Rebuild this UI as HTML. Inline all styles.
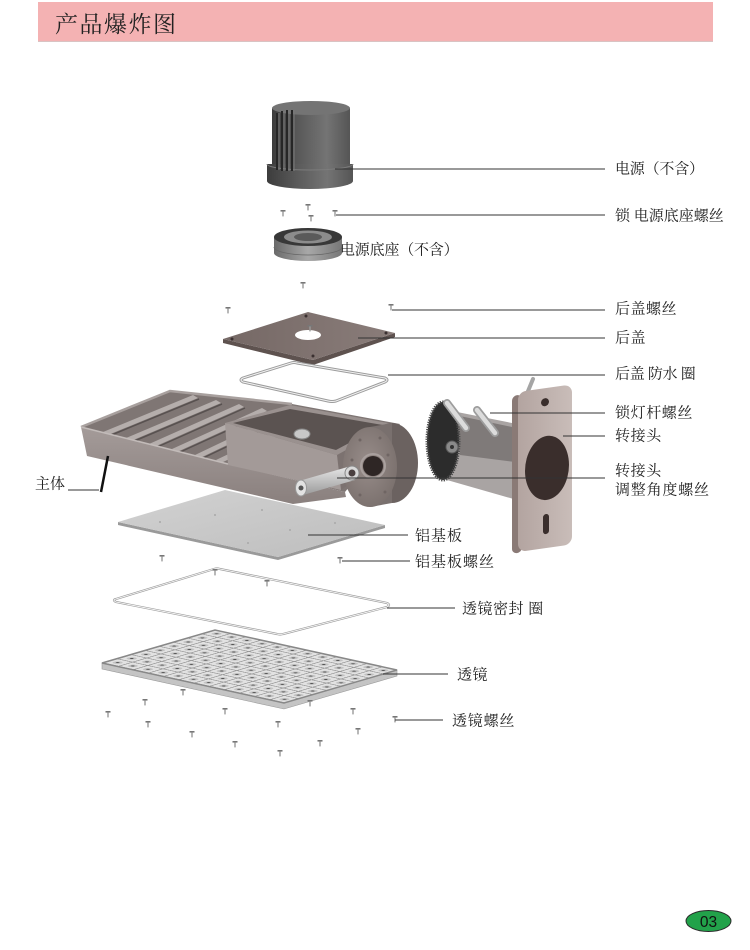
<!DOCTYPE html>
<html><head><meta charset="utf-8">
<style>
html,body{margin:0;padding:0;background:#fff;}
svg{display:block;}
.l{font-family:"Liberation Serif","Noto Serif CJK SC",serif;font-size:15px;fill:#222;}
</style></head><body>
<svg width="750" height="950" viewBox="0 0 750 950" xmlns="http://www.w3.org/2000/svg">
<defs>
 <linearGradient id="psg" x1="0" x2="1" y1="0" y2="0">
  <stop offset="0" stop-color="#3c3c3c"/><stop offset="0.35" stop-color="#5a5a5a"/><stop offset="0.7" stop-color="#747474"/><stop offset="1" stop-color="#555"/>
 </linearGradient>
 <linearGradient id="pbg" x1="0" x2="1" y1="0" y2="0">
  <stop offset="0" stop-color="#6a6a6a"/><stop offset="0.5" stop-color="#a8a8a8"/><stop offset="1" stop-color="#777"/>
 </linearGradient>
 <linearGradient id="bc" x1="0" x2="1" y1="0" y2="0">
  <stop offset="0" stop-color="#756865"/><stop offset="1" stop-color="#8a7d7a"/>
 </linearGradient>
 <linearGradient id="fw" x1="0" x2="0" y1="0" y2="1">
  <stop offset="0" stop-color="#a49b99"/><stop offset="1" stop-color="#8a807e"/>
 </linearGradient>
 <linearGradient id="al" x1="0" x2="1" y1="0" y2="1">
  <stop offset="0" stop-color="#d2d2d2"/><stop offset="1" stop-color="#bdbdbd"/>
 </linearGradient>
 <linearGradient id="bolt" x1="0" x2="0" y1="0" y2="1">
  <stop offset="0" stop-color="#e8e8e8"/><stop offset="1" stop-color="#9a9a9a"/>
 </linearGradient>
 <linearGradient id="pl" x1="0" x2="1" y1="0" y2="0">
  <stop offset="0" stop-color="#b3a4a0"/><stop offset="1" stop-color="#c9bdb9"/>
 </linearGradient>
 <radialGradient id="kn" cx="0.45" cy="0.45" r="0.6">
  <stop offset="0" stop-color="#988d8a"/><stop offset="1" stop-color="#7a706d"/>
 </radialGradient>
 <pattern id="lp" patternUnits="userSpaceOnUse" width="0.125" height="0.08333">
  <rect width="0.125" height="0.08333" fill="#e2e2e2"/>
  <rect width="0.125" height="0.007" fill="#8f8f8f"/>
  <rect width="0.012" height="0.08333" fill="#999"/>
  <ellipse cx="0.066" cy="0.045" rx="0.03" ry="0.02" fill="#c2c2c2"/>
  <ellipse cx="0.066" cy="0.045" rx="0.011" ry="0.008" fill="#555"/>
 </pattern>
 <g id="s"><rect x="-2.5" y="-3" width="5" height="1.6" fill="#777"/><rect x="-0.7" y="-1.6" width="1.4" height="5" fill="#9a9a9a"/></g>
</defs>

<!-- header -->
<rect x="38" y="2" width="675" height="40" fill="#f4b2b3"/>
<line x1="38" y1="41.5" x2="713" y2="41.5" stroke="#d9c3c3"/>
<text x="55" y="32" font-family="Liberation Serif, Noto Serif CJK SC, serif" font-size="23" letter-spacing="1.5" fill="#222">产品爆炸图</text>

<!-- power supply -->
<path d="M272,108 V166 H350 V108 Z" fill="url(#psg)"/>
<ellipse cx="311" cy="108" rx="39" ry="7" fill="#747474"/>
<path d="M267,164 V181 A43,8 0 0 0 353,181 V164 Z" fill="url(#psg)"/>
<path d="M267,164 A43,6 0 0 0 353,164" stroke="#7c7c7c" fill="none"/>
<g stroke-width="2">
 <line x1="277" y1="113" x2="277" y2="170" stroke="#262626"/>
 <line x1="282" y1="111" x2="282" y2="171" stroke="#262626"/>
 <line x1="287" y1="110" x2="287" y2="171" stroke="#262626"/>
 <line x1="292" y1="110" x2="292" y2="171" stroke="#262626"/>
</g>
<g stroke-width="1" stroke="#7a7a7a">
 <line x1="279" y1="113" x2="279" y2="170"/><line x1="284" y1="111" x2="284" y2="171"/><line x1="289" y1="110" x2="289" y2="171"/><line x1="294" y1="110" x2="294" y2="171"/>
</g>

<!-- screws -->
<use href="#s" x="283" y="213"/><use href="#s" x="308" y="207"/><use href="#s" x="311" y="218"/><use href="#s" x="335" y="213"/>
<use href="#s" x="303" y="285"/><use href="#s" x="228" y="310"/><use href="#s" x="391" y="307"/>

<!-- power base -->
<path d="M274,237 V253 A34,8 0 0 0 342,253 V237 Z" fill="url(#pbg)"/>
<path d="M274,247 A34,8 0 0 0 342,247" stroke="#666" fill="none" stroke-width="0.8"/>
<ellipse cx="308" cy="237" rx="34" ry="9" fill="#383838"/>
<ellipse cx="308" cy="237" rx="24" ry="6.5" fill="#8c8c8c"/>
<ellipse cx="308" cy="237" rx="14" ry="4" fill="#5a5a5a"/>

<!-- back cover -->
<polygon points="223,339 313,360 395,333 395,337 313,365 223,343" fill="#5e524f"/>
<polygon points="223,339 308,312 395,333 313,360" fill="url(#bc)"/>
<ellipse cx="308" cy="335" rx="13" ry="5" fill="#fff"/>
<use href="#s" x="310" y="328"/>
<g fill="#3a3030"><circle cx="232" cy="339" r="1.5"/><circle cx="306" cy="316" r="1.5"/><circle cx="386" cy="333" r="1.5"/><circle cx="313" cy="356" r="1.5"/></g>

<!-- gasket -->
<path d="M243,378 L291,363 Q294,362 297,363 L385,378 Q389,380 385,382 L336,401 Q332,402 328,401 L243,382 Q239,380 243,378 Z" fill="none" stroke="#9c9c9c" stroke-width="3"/>
<path d="M243,378 L291,363 Q294,362 297,363 L385,378 Q389,380 385,382 L336,401 Q332,402 328,401 L243,382 Q239,380 243,378 Z" fill="none" stroke="#f2f2f2" stroke-width="1"/>

<!-- aluminum plate -->
<polygon points="118,522 278,557 385,525 385,528 278,560 118,525" fill="#9a9a9a"/>
<polygon points="118,522 225,490 385,525 278,557" fill="url(#al)"/>
<g fill="#a8a8a8"><circle cx="160" cy="522" r="1"/><circle cx="215" cy="515" r="1"/><circle cx="262" cy="510" r="1"/><circle cx="290" cy="530" r="1"/><circle cx="248" cy="543" r="1"/><circle cx="335" cy="523" r="1"/></g>

<!-- main body -->
<polygon points="81,427 170,391 292,404 400,424 345,492 228,464" fill="#7f7674"/>
<polyline points="81,427 170,391 292,404" fill="none" stroke="#a8a09e" stroke-width="2.5"/>
<g>
 <polygon points="103,432 193,395 198,398 108,435" fill="#b5aeac"/><line x1="109" y1="436" x2="199" y2="399" stroke="#585150" stroke-width="1.5"/>
 <polygon points="126,438 216,400 221,403 131,441" fill="#b5aeac"/><line x1="132" y1="442" x2="222" y2="404" stroke="#585150" stroke-width="1.5"/>
 <polygon points="149,444 239,404 244,407 154,447" fill="#b5aeac"/><line x1="155" y1="448" x2="245" y2="408" stroke="#585150" stroke-width="1.5"/>
 <polygon points="172,449 262,408 267,411 177,452" fill="#b5aeac"/><line x1="178" y1="453" x2="268" y2="412" stroke="#585150" stroke-width="1.5"/>
 <polygon points="195,455 285,412 290,415 200,458" fill="#b5aeac"/><line x1="201" y1="459" x2="291" y2="416" stroke="#585150" stroke-width="1.5"/>
 <polygon points="216,460 300,420 305,423 221,463" fill="#b5aeac"/>
</g>
<polygon points="81,427 228,464 345,492 346,497 293,504 87,456" fill="url(#fw)"/>
<line x1="81" y1="427" x2="228" y2="464" stroke="#c2bbb9" stroke-width="1.5"/>
<!-- junction box -->
<polygon points="337,455 393,424 396,452 341,490" fill="#7c7270"/>
<polygon points="225,423 337,455 341,490 228,465" fill="#a39a98"/>
<polygon points="225,423 290,405 393,424 337,455" fill="#9a918f"/>
<polygon points="233,423 290,409 383,425 336,450" fill="#5b5351"/>
<ellipse cx="302" cy="434" rx="8" ry="5" fill="#c8c8c8" stroke="#888"/>
<!-- knob -->
<ellipse cx="392" cy="463" rx="26" ry="40" fill="#6b6260"/>
<polygon points="370,427 392,423 392,503 370,507" fill="#79706e"/>
<ellipse cx="370" cy="467" rx="27" ry="40" fill="url(#kn)"/>
<g fill="#6f6563"><circle cx="360" cy="440" r="1.5"/><circle cx="380" cy="438" r="1.5"/><circle cx="388" cy="455" r="1.5"/><circle cx="385" cy="492" r="1.5"/><circle cx="360" cy="495" r="1.5"/><circle cx="352" cy="460" r="1.5"/></g>
<circle cx="373" cy="466" r="12" fill="none" stroke="#a9a09e" stroke-width="2"/>
<circle cx="373" cy="466" r="10" fill="#2e2625"/>
<!-- bolt -->
<polygon points="299,481 351,466 355,480 303,495" fill="url(#bolt)"/>
<ellipse cx="301" cy="488" rx="5.5" ry="8" fill="#e2e2e2" stroke="#999"/>
<circle cx="301" cy="488" r="2.5" fill="#555"/>
<circle cx="352" cy="473" r="7" fill="#d8d8d8" stroke="#888"/>
<circle cx="352" cy="473" r="3.5" fill="#4a4040"/>

<!-- bracket -->
<polygon points="447,410 517,424 517,500 447,480" fill="#a9a4a3"/>
<polygon points="455,415 512,427 515,462 460,455" fill="#7f7a79"/>
<ellipse cx="443" cy="441" rx="16" ry="39" fill="#2c2c2c" stroke="#4a4a4a" stroke-width="3" stroke-dasharray="1.2 1.2"/>
<circle cx="452" cy="447" r="6" fill="#8a8a8a" stroke="#5a5a5a"/>
<circle cx="452" cy="447" r="2" fill="#333"/>
<line x1="447" y1="403" x2="466" y2="428" stroke="#9d9d9d" stroke-width="8" stroke-linecap="round"/>
<line x1="447" y1="403" x2="466" y2="428" stroke="#dcdcdc" stroke-width="4.5" stroke-linecap="round"/>
<line x1="477" y1="410" x2="495" y2="433" stroke="#9d9d9d" stroke-width="8" stroke-linecap="round"/>
<line x1="477" y1="410" x2="495" y2="433" stroke="#dcdcdc" stroke-width="4.5" stroke-linecap="round"/>
<line x1="533" y1="379" x2="526" y2="396" stroke="#a5a5a5" stroke-width="4" stroke-linecap="round"/>
<g transform="matrix(1,-0.14,0,1,0,72.5)">
 <rect x="512" y="395" width="10" height="158" rx="5" fill="#8a7a76"/>
 <rect x="518" y="392" width="54" height="160" rx="8" fill="url(#pl)"/>
 <ellipse cx="547" cy="472" rx="22" ry="32" fill="#3a2e2c"/>
 <circle cx="545" cy="406" r="4" fill="#3a2e2c"/>
 <rect x="543" y="518" width="6" height="20" rx="3" fill="#3a2e2c"/>
</g>

<!-- lens seal -->
<path d="M116,599 L214,569 Q217,568 220,569 L387,603 Q391,605 387,607 L283,634 Q280,635 277,634 L116,602 Q112,600 116,599 Z" fill="none" stroke="#a0a0a0" stroke-width="2.2"/>
<path d="M116,599 L214,569 Q217,568 220,569 L387,603 Q391,605 387,607 L283,634 Q280,635 277,634 L116,602 Q112,600 116,599 Z" fill="none" stroke="#fff" stroke-width="0.8"/>
<use href="#s" x="215" y="572"/><use href="#s" x="267" y="583"/>
<use href="#s" x="162" y="558"/><use href="#s" x="340" y="560"/>

<!-- lens -->
<polygon points="102,663 284,703 397,670 397,676 284,709 102,669" fill="#c4c4c4" stroke="#999" stroke-width="0.6"/>
<g transform="matrix(113,-33,182,40,102,663)">
 <rect width="1" height="1" fill="url(#lp)"/>
 <rect width="1" height="1" fill="none" stroke="#888" stroke-width="1.5" vector-effect="non-scaling-stroke"/>
</g>

<!-- lens screws -->
<use href="#s" x="183" y="692"/><use href="#s" x="145" y="702"/><use href="#s" x="108" y="714"/><use href="#s" x="148" y="724"/><use href="#s" x="192" y="734"/><use href="#s" x="225" y="711"/><use href="#s" x="235" y="744"/><use href="#s" x="278" y="724"/><use href="#s" x="280" y="753"/><use href="#s" x="320" y="743"/><use href="#s" x="353" y="711"/><use href="#s" x="358" y="731"/><use href="#s" x="395" y="719"/><use href="#s" x="310" y="703"/>

<!-- leader lines -->
<g stroke="#333" stroke-width="1" fill="none">
 <line x1="335" y1="169" x2="605" y2="169"/>
 <line x1="336" y1="215" x2="605" y2="215"/>
 <line x1="392" y1="310" x2="605" y2="310"/>
 <line x1="358" y1="338" x2="605" y2="338"/>
 <line x1="388" y1="375" x2="605" y2="375"/>
 <line x1="490" y1="413" x2="605" y2="413"/>
 <line x1="563" y1="436" x2="605" y2="436"/>
 <line x1="337" y1="478" x2="605" y2="478"/>
 <line x1="308" y1="535" x2="408" y2="535"/>
 <line x1="342" y1="561" x2="410" y2="561"/>
 <line x1="387" y1="608" x2="455" y2="608"/>
 <line x1="383" y1="674" x2="448" y2="674"/>
 <line x1="395" y1="720" x2="443" y2="720"/>
 <line x1="68" y1="490" x2="99" y2="490"/>
</g>
<line x1="101" y1="492" x2="108" y2="456" stroke="#111" stroke-width="2.5"/>

<!-- labels -->
<text class="l" x="615" y="173.5" letter-spacing="-0.2">电源（不含）</text>
<text class="l" x="615" y="220.5" letter-spacing="0">锁 电源底座螺丝</text>
<text class="l" x="340" y="254.5" letter-spacing="-0.2">电源底座（不含）</text>
<text class="l" x="615" y="313.5" letter-spacing="0.5">后盖螺丝</text>
<text class="l" x="615" y="342.5" letter-spacing="0.5">后盖</text>
<text class="l" x="615" y="378.5" letter-spacing="-0.3">后盖 防水 圈</text>
<text class="l" x="615" y="417.5" letter-spacing="0.6">锁灯杆螺丝</text>
<text class="l" x="615" y="440.5" letter-spacing="0.6">转接头</text>
<text class="l" x="615" y="475.5" letter-spacing="0.6">转接头</text>
<text class="l" x="615" y="494.5" letter-spacing="0.8">调整角度螺丝</text>
<text class="l" x="35" y="488.5" letter-spacing="0">主体</text>
<text class="l" x="415" y="540.5" letter-spacing="1">铝基板</text>
<text class="l" x="415" y="566.5" letter-spacing="1">铝基板螺丝</text>
<text class="l" x="462" y="613.5" letter-spacing="0.5">透镜密封 圈</text>
<text class="l" x="457" y="679.5" letter-spacing="0.5">透镜</text>
<text class="l" x="452" y="725.5" letter-spacing="0.8">透镜螺丝</text>

<!-- page number -->
<ellipse cx="708.5" cy="921" rx="22.5" ry="10.5" fill="#22a24a" stroke="#2a2a2a" stroke-width="1"/>
<text x="708.5" y="927" text-anchor="middle" font-family="Liberation Sans, sans-serif" font-size="15.5" fill="#111">03</text>
</svg>
</body></html>
